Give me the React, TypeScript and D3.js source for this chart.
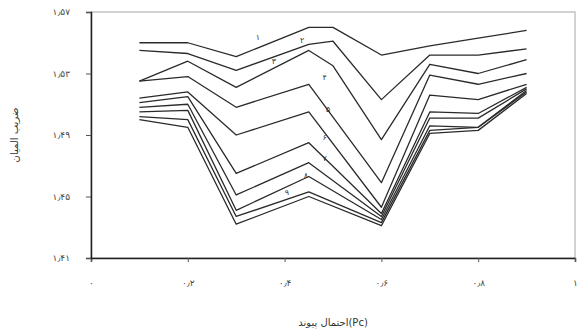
import React, {useRef, useEffect} from 'react'
import * as d3 from 'd3'

// x values (Pc) shared by all curves
const pc = [0.1, 0.2, 0.3, 0.45, 0.5, 0.6, 0.7, 0.8, 0.9]

// one array per curve, null where the curve has no point
const s1 = [1.550, 1.550, 1.541, 1.560, 1.560, 1.542, 1.548, 1.553, 1.558]
const s2 = [1.545, 1.543, 1.532, 1.549, 1.551, 1.513, 1.542, 1.542, 1.546]
const s3 = [1.525, 1.538, 1.521, 1.545, 1.535, 1.487, 1.536, 1.530, 1.539]
const s4 = [1.525, 1.528, 1.508, 1.523, null, 1.459, 1.529, 1.523, 1.530]
const s5 = [1.514, 1.518, 1.490, 1.505, null, 1.443, 1.516, 1.513, 1.523]
const s6 = [1.511, 1.515, 1.465, 1.485, null, 1.439, 1.505, 1.504, 1.521]
const s7 = [1.508, 1.510, 1.451, 1.472, null, 1.437, 1.501, 1.501, 1.520]
const s8 = [1.505, 1.506, 1.441, 1.463, null, 1.435, 1.496, 1.495, 1.519]
const s9 = [1.502, 1.500, 1.437, 1.453, null, 1.433, 1.493, 1.495, 1.518]
const s10 = [1.500, 1.495, 1.432, 1.450, null, 1.431, 1.491, 1.493, 1.517]
const allSeries = [s1, s2, s3, s4, s5, s6, s7, s8, s9, s10]

// curve number labels: text, x, y (data units)
const labelText = ['۱', '۲', '۳', '۴', '۵', '۶', '۷', '۸', '۹']
const labelX = [0.345, 0.436, 0.378, 0.483, 0.490, 0.483, 0.483, 0.444, 0.405]
const labelY = [1.552, 1.550, 1.536, 1.526, 1.505, 1.487, 1.473, 1.462, 1.451]

const xTicks = [0, 0.2, 0.4, 0.6, 0.8, 1]
const yTicks = [1.41, 1.45, 1.49, 1.53, 1.57]

const xTitle = 'احتمال پیوند(Pc)'
const yTitle = 'ضریب المیان'

const faDigits = '۰۱۲۳۴۵۶۷۸۹'
const toFa = (s: string) => s.replace(/[0-9]/g, d => faDigits[+d]).replace('.', '٫')

const App = () => {
    const element = useRef<SVGSVGElement>(null)

    useEffect(() => {
        const svg = d3.select(element.current)
        svg.selectAll('*').remove()

        const left = 91, right = 575, top = 12, bottom = 258
        const font = '"DejaVu Sans", sans-serif'

        const x = d3.scaleLinear().domain([0, 1]).range([left, right])
        const y = d3.scaleLinear().domain([1.41, 1.57]).range([bottom, top])

        // plot area frame (light)
        svg.append('rect')
            .attr('x', left).attr('y', top)
            .attr('width', right - left).attr('height', bottom - top)
            .attr('fill', 'none')
            .attr('stroke', '#b5b5b5')
            .attr('stroke-width', 1.2)

        // curves
        const line = d3.line<[number, number]>()
            .x(d => x(d[0]))
            .y(d => y(d[1]))

        allSeries.forEach(s => {
            const pts = pc.map((p, i) => [p, s[i]] as [number, number | null])
                .filter(d => d[1] != null) as [number, number][]
            svg.append('path')
                .attr('d', line(pts))
                .attr('fill', 'none')
                .attr('stroke', '#2a2a2a')
                .attr('stroke-width', 1.3)
                .attr('stroke-linejoin', 'round')
        })

        svg.append('g')
            .selectAll('text')
            .data(labelText)
            .enter()
            .append('text')
            .attr('x', (d, i) => x(labelX[i]))
            .attr('y', (d, i) => y(labelY[i]))
            .attr('text-anchor', 'middle')
            .attr('font-family', font)
            .attr('font-size', 8)
            .attr('fill', '#333')
            .text(d => d)

        // axes
        const xAxis = svg.append('g')
            .attr('transform', `translate(0,${bottom})`)
            .call(d3.axisBottom(x).tickValues(xTicks).tickSize(4)
                .tickFormat(d => toFa(String(+(+d).toFixed(1)))))
        xAxis.select('.domain').attr('stroke', '#222').attr('stroke-width', 1.5)
        xAxis.selectAll('.tick line').attr('stroke', '#555')
        xAxis.selectAll('.tick text')
            .attr('font-family', font).attr('font-size', 9).attr('fill', '#444')
            .attr('dy', '2.3em')

        const yAxis = svg.append('g')
            .attr('transform', `translate(${left},0)`)
            .call(d3.axisLeft(y).tickValues(yTicks).tickSize(5)
                .tickFormat(d => toFa(d3.format('.2f')(+d))))
        yAxis.select('.domain').attr('stroke', '#222').attr('stroke-width', 1.5)
        yAxis.selectAll('.tick line').attr('stroke', '#555')
        yAxis.selectAll('.tick text')
            .attr('font-family', font).attr('font-size', 9).attr('fill', '#444')
            .attr('x', -21)

        // titles
        svg.append('text')
            .attr('x', (left + right) / 2)
            .attr('y', 326)
            .attr('text-anchor', 'middle')
            .attr('font-family', font)
            .attr('font-size', 10)
            .attr('fill', '#333')
            .text(xTitle)

        svg.append('text')
            .attr('transform', `translate(18,${(top + bottom) / 2}) rotate(-90)`)
            .attr('text-anchor', 'middle')
            .attr('font-family', font)
            .attr('font-size', 10)
            .attr('fill', '#333')
            .text(yTitle)
    }, [])

    return (
        <svg ref={element} width={585} height={336}
            style={{position: 'absolute', left: 0, top: 0, background: '#fff'}} />
    )
}

export default App
